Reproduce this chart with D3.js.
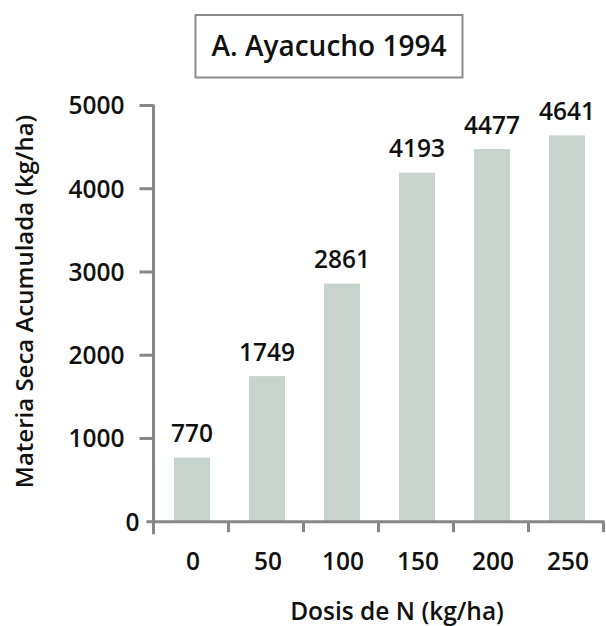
<!DOCTYPE html>
<html>
<head>
<meta charset="utf-8">
<script src="https://cdn.jsdelivr.net/npm/d3@7"></script>
<style>
  html, body { margin: 0; padding: 0; background: #fff; }
  svg { display: block; }
  text { font-family: "Open Sans", "Noto Sans", sans-serif; fill: #111; }
</style>
</head>
<body>
<svg id="chart" width="606" height="626"></svg>
<script>
const categories = ["0", "50", "100", "150", "200", "250"];
const values = [770, 1749, 2861, 4193, 4477, 4641];
const yTicks = [0, 1000, 2000, 3000, 4000, 5000];
const title = "A. Ayacucho 1994";
const xTitle = "Dosis de N (kg/ha)";
const yTitle = "Materia Seca Acumulada (kg/ha)";

const svg = d3.select("#chart");
const axisColor = "#878787";
const barColor = "#c6d4cd";

const x = d3.scaleBand().domain(categories).range([154.5, 604.5])
  .paddingInner(0.52).paddingOuter(0.26);
const y = d3.scaleLinear().domain([0, 5000]).range([521.7, 105.5]);
const x0 = 153.5;

// title box
svg.append("rect").attr("x", 195.5).attr("y", 15).attr("width", 267).attr("height", 62.5)
  .attr("fill", "#fff").attr("stroke", "#8c8c8c").attr("stroke-width", 2);
svg.append("text").attr("x", 329).attr("y", 55.5).attr("text-anchor", "middle")
  .attr("font-size", 28).attr("font-weight", 600).text(title);

// bars
svg.selectAll("rect.bar").data(values).join("rect").attr("class", "bar")
  .attr("x", (d, i) => x(categories[i]))
  .attr("width", x.bandwidth())
  .attr("y", d => y(d))
  .attr("height", d => y(0) - y(d))
  .attr("fill", barColor);

// value labels
svg.selectAll("text.val").data(values).join("text").attr("class", "val")
  .attr("x", (d, i) => x(categories[i]) + x.bandwidth() / 2)
  .attr("y", d => y(d) - 15.5)
  .attr("text-anchor", "middle")
  .attr("font-size", 24.5).attr("font-weight", 600)
  .text(d => d);

// y axis
const ya = svg.append("g");
ya.append("line").attr("x1", x0).attr("x2", x0).attr("y1", y(5000) - 1).attr("y2", y(0) + 12.5)
  .attr("stroke", axisColor).attr("stroke-width", 3);
yTicks.forEach(t => {
  const len = t === 0 ? 7 : 14;
  ya.append("line").attr("x1", x0 - len).attr("x2", x0).attr("y1", y(t)).attr("y2", y(t))
    .attr("stroke", axisColor).attr("stroke-width", 3);
  ya.append("text").attr("x", t === 0 ? 139.5 : 124.5).attr("y", y(t)).attr("dy", "0.36em")
    .attr("text-anchor", "end").attr("font-size", 24.5).attr("font-weight", 600).text(t);
});

// x axis
const xa = svg.append("g");
xa.append("line").attr("x1", x0).attr("x2", 604.5).attr("y1", y(0)).attr("y2", y(0))
  .attr("stroke", axisColor).attr("stroke-width", 3);
const step = x.step();
categories.forEach((c, i) => {
  const bx = x(c) + x.bandwidth() / 2 + step / 2 - 1;
  xa.append("line").attr("x1", bx).attr("x2", bx).attr("y1", y(0)).attr("y2", y(0) + 10.5)
    .attr("stroke", axisColor).attr("stroke-width", 3);
  xa.append("text").attr("x", x(c) + x.bandwidth() / 2 + 1).attr("y", 570)
    .attr("text-anchor", "middle").attr("font-size", 24.5).attr("font-weight", 600).text(c);
});

// axis titles
svg.append("text").attr("x", 397).attr("y", 620).attr("text-anchor", "middle")
  .attr("font-size", 24.5).attr("font-weight", 600).text(xTitle);
svg.append("text").attr("transform", "translate(33,301.5) rotate(-90)")
  .attr("text-anchor", "middle").attr("font-size", 24).attr("font-weight", 600).text(yTitle);
</script>
</body>
</html>
